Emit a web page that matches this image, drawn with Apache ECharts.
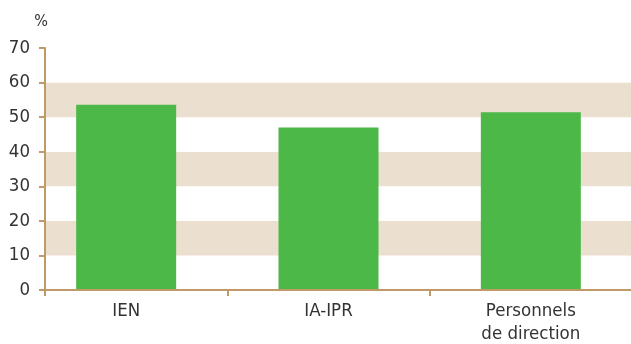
<!DOCTYPE html>
<html><head><meta charset="utf-8">
<script src="https://cdn.jsdelivr.net/npm/echarts@6/dist/echarts.min.js"></script>
<style>html,body{margin:0;padding:0;background:#fff}#c{width:631px;height:344px}</style>
</head><body><div id="c"></div>
<script>
const categories = ['IEN', 'IA-IPR', 'Personnels\nde direction'];
const values = [53.6, 47.0, 51.4];
const yTicks = [0, 10, 20, 30, 40, 50, 60, 70];
const unitLabel = '%';

const FONT = "'DejaVu Sans'";
const STRETCH = 'normal condensed';
const TAN = '#bf9a67';
const TXT = '#333333';
const chart = echarts.init(document.getElementById('c'), null, {renderer: 'canvas'});
chart.setOption({
  animation: false,
  grid: [
    {left: 45, right: -1, top: 48, bottom: 54, containLabel: false, outerBoundsMode: 'none'},
    {left: 25, right: -1, top: 48, bottom: 54, containLabel: false, outerBoundsMode: 'none'}
  ],
  xAxis: [
    {gridIndex: 0, type: 'value', min: 0, max: 1, interval: 1,
     axisLine: {show: true, lineStyle: {color: TAN, width: 2}},
     axisTick: {show: true, length: 6, lineStyle: {color: TAN, width: 2}},
     axisLabel: {show: false}, splitLine: {show: false}, z: 3},
    {gridIndex: 1, type: 'category', data: categories,
     axisLine: {show: false},
     axisTick: {show: true, length: 6, interval: function (i) { return i > 0; }, lineStyle: {color: TAN, width: 2}},
     axisLabel: {show: true, color: TXT, fontFamily: FONT, fontWeight: STRETCH, fontSize: 18.5, lineHeight: 23, margin: 10, interval: 0},
     splitLine: {show: false}}
  ],
  yAxis: [
    {gridIndex: 0, type: 'value', min: yTicks[0], max: yTicks[yTicks.length - 1], interval: 10,
     name: unitLabel, nameLocation: 'end', nameGap: 18,
     nameTextStyle: {color: TXT, fontFamily: FONT, fontWeight: STRETCH, fontSize: 16, align: 'center', padding: [0, 8, 0, 0]},
     axisLine: {show: true, lineStyle: {color: TAN, width: 2}},
     axisTick: {show: true, length: 6, lineStyle: {color: TAN, width: 2}},
     axisLabel: {color: TXT, fontFamily: FONT, fontWeight: STRETCH, fontSize: 18.5, margin: 15},
     splitLine: {show: false},
     splitArea: {show: true, areaStyle: {color: ['#ffffff', '#ebe0cf']}}},
    {gridIndex: 1, type: 'value', min: yTicks[0], max: yTicks[yTicks.length - 1], show: false}
  ],
  series: [{
    type: 'bar', xAxisIndex: 1, yAxisIndex: 1, data: values, barWidth: 100,
    itemStyle: {color: '#4cb848'}, z: 1
  }]
});
</script></body></html>
